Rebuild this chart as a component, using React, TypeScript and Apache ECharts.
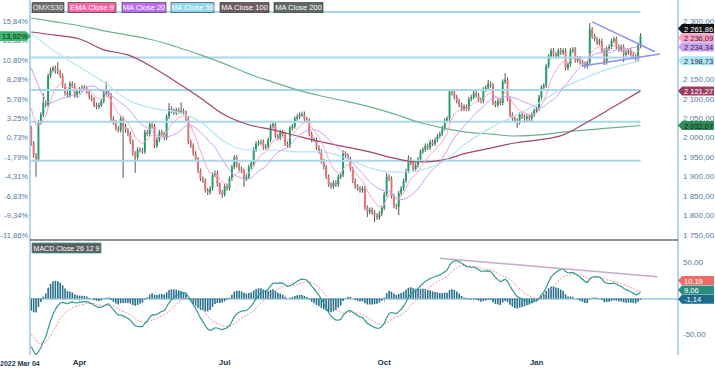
import React, { useEffect, useRef } from "react";
import * as echarts from "echarts";

// ---------- DATA ----------
const closes = [
  1986, 1955, 1945, 2040, 2060, 2090, 2085, 2160, 2175, 2180,
  2172, 2170, 2160, 2135, 2115, 2110, 2140, 2135, 2110, 2120,
  2125, 2130, 2128, 2120, 2105, 2100, 2085, 2080, 2085, 2095,
  2115, 2120, 2110, 2050, 2040, 2025, 2020, 2050, 2030, 2020,
  2010, 1990, 1960, 1950, 1970, 1968, 1965, 2015, 2010, 2035,
  2030, 1980, 1995, 2015, 2010, 2000, 2055, 2075, 2070, 2065,
  2072, 2068, 2070, 2065, 2050, 1990, 1980, 1960, 1945, 1915,
  1895, 1890, 1865, 1860, 1870, 1905, 1910, 1880, 1860, 1855,
  1875, 1870, 1895, 1925, 1950, 1930, 1920, 1915, 1895, 1900,
  1925, 1935, 1970, 1985, 1988, 1990, 1975, 1978, 1995, 2030,
  2035, 2005, 2000, 2015, 2010, 1985, 1980, 2025, 2030, 2050,
  2055, 2060, 2062, 2048, 2045, 2010, 1995, 1995, 1975, 1965,
  1940, 1925, 1900, 1880, 1875, 1885, 1880, 1900, 1905, 1960,
  1955, 1945, 1920, 1890, 1875, 1870, 1865, 1870, 1820, 1810,
  1815, 1808, 1800, 1795, 1805, 1820, 1855, 1900, 1895, 1850,
  1825, 1822, 1858, 1870, 1890, 1915, 1945, 1935, 1920, 1930,
  1945, 1965, 1970, 1980, 1975, 1990, 1985, 1995, 2005, 2010,
  2025, 2045, 2050, 2120, 2115, 2105, 2095, 2085, 2075, 2080,
  2075, 2100, 2105, 2115, 2110, 2098, 2095, 2125, 2130, 2140,
  2135, 2090, 2085, 2095, 2090, 2145, 2150, 2100, 2060, 2050,
  2045, 2040, 2060, 2055, 2050, 2055, 2050, 2060, 2070, 2075,
  2105, 2130, 2135, 2185, 2210, 2225, 2215, 2210, 2225, 2220,
  2225, 2180, 2190, 2225, 2228, 2200, 2205, 2195, 2190, 2185,
  2195, 2280, 2262, 2255, 2245, 2250, 2225, 2195, 2230, 2235,
  2250, 2255, 2235, 2228, 2235, 2215, 2220, 2225, 2215, 2210,
  2205, 2238, 2261.86,
];
const firstOpen = 2025;
const defaultWick = 6;
const highOverrides: Record<number, number> = {
  5: 2115, 11: 2195, 31: 2144, 57: 2090, 62: 2092, 100: 2042, 111: 2066,
  129: 1968, 147: 1910, 156: 1955, 189: 2150, 196: 2167, 219: 2232,
  231: 2296, 252: 2270,
};
const lowOverrides: Record<number, number> = {
  2: 1900, 38: 1897, 43: 1910, 73: 1853, 79: 1845, 88: 1874, 139: 1796,
  142: 1783, 152: 1801, 201: 2026, 237: 2188, 245: 2196, 249: 2203,
};
const pctBase = 1985.5;

const ma20Head = [2180, 2165, 2150, 2135, 2120, 2108, 2098, 2092, 2090, 2092,
  2095, 2098, 2100, 2103, 2105, 2106, 2108, 2110, 2112];

const ma50Pts: [number, number][] = [
  [0, 2270], [10, 2222], [20, 2183], [30, 2144], [40, 2098], [50, 2077],
  [60, 2067], [70, 2041], [80, 1990], [90, 1969], [100, 1969], [110, 1964],
  [120, 1964], [130, 1948], [140, 1923], [150, 1912], [160, 1916],
  [170, 1938], [180, 1987], [190, 2026], [200, 2057], [210, 2090],
  [220, 2129], [230, 2157], [240, 2180], [252, 2198.73],
];
const ma100Pts: [number, number][] = [
  [0, 2273], [10, 2265], [20, 2255], [30, 2227], [40, 2214], [50, 2183],
  [60, 2144], [70, 2103], [80, 2059], [90, 2034], [100, 2021], [110, 2005],
  [120, 1990], [130, 1977], [140, 1964], [150, 1948], [160, 1938],
  [170, 1943], [180, 1961], [190, 1974], [200, 1987], [210, 1995],
  [220, 2008], [230, 2041], [240, 2077], [252, 2121.27],
];
const ma200Pts: [number, number][] = [
  [0, 2309], [10, 2299], [20, 2289], [30, 2276], [40, 2265], [50, 2253],
  [60, 2235], [70, 2214], [80, 2191], [90, 2165], [100, 2144], [110, 2124],
  [120, 2108], [130, 2095], [140, 2080], [150, 2062], [160, 2041],
  [170, 2026], [180, 2015], [190, 2010], [200, 2005], [210, 2008],
  [220, 2015], [230, 2021], [240, 2026], [252, 2032.07],
];

const emaSeed9 = 2100;
const emaSeed12 = 2120;
const emaSeed26 = 2180;
const signalSeed = -45;

const levels = [2324.7, 2207.3, 2123.7, 2042, 1941.3];
const triUpper: [number, number][] = [[232, 2299], [258, 2222]];
const triLower: [number, number][] = [[228, 2185.5], [260, 2216.5]];
const macdTrend: [number, number][] = [[169, 55.6], [259, 30.2]];

const pctLabels: Record<number, string> = {
  2300: "15,84%", 2250: "13,32%", 2200: "10,80%", 2150: "8,28%", 2100: "5,76%",
  2050: "3,25%", 2000: "0,73%", 1950: "-1,79%", 1900: "-4,31%", 1850: "-6,83%",
  1800: "-9,34%", 1750: "-11,86%",
};
const hiddenPriceLabels = [2250, 2200]; // covered by value tags in the reference
const startLabel = "2022 Mar 04";
const xLabels: Record<number, string> = { 20: "Apr", 80: "Jul", 146: "Oct", 209: "Jan" };

const lastEma9 = 2236.09;
const lastMa20 = 2234.34;
const lastMacd = 9.06;
const lastSignal = 10.19;
const lastHist = -1.14;

const legendItems = [
  { t: "OMXS30", x: 32, w: 32, bg: "#6e6e6e", fg: "#ececec" },
  { t: "EMA Close 9", x: 68, w: 48, bg: "#ff63a6", fg: "#ffffff" },
  { t: "MA Close 20", x: 122, w: 44, bg: "#b86df2", fg: "#ffffff" },
  { t: "MA Close 50", x: 171, w: 43, bg: "#8fd6f0", fg: "#ffffff" },
  { t: "MA Close 100", x: 220, w: 49, bg: "#6d5c62", fg: "#ffffff" },
  { t: "MA Close 200", x: 274, w: 49, bg: "#5e6a63", fg: "#ffffff" },
];

// ---------- derived ----------
const SLOTS = 268;
const cats = Array.from({ length: SLOTS }, (_, i) => String(i));
const FONT = '"Liberation Sans", Arial, sans-serif';

const candleData = closes.map((c, i) => {
  const o = i === 0 ? firstOpen : closes[i - 1];
  const h = highOverrides[i] ?? Math.max(o, c) + defaultWick;
  const l = lowOverrides[i] ?? Math.min(o, c) - defaultWick;
  return [i, o, c, l, h];
});

function ema(arr: number[], n: number, seed: number) {
  const k = 2 / (n + 1);
  let e = seed;
  return arr.map((v) => (e = e + (v - e) * k));
}
const ema9 = ema(closes, 9, emaSeed9);
const ma20 = closes.map((_, i) => {
  if (i < 19) return ma20Head[i];
  let s = 0;
  for (let j = i - 19; j <= i; j++) s += closes[j];
  return s / 20;
});
const e12 = ema(closes, 12, emaSeed12);
const e26 = ema(closes, 26, emaSeed26);
const macd = e12.map((v, i) => v - e26[i]);
const signal = ema(macd, 9, signalSeed);
const hist = macd.map((v, i) => v - signal[i]);

const fmtPrice = (v: number) => {
  const [a, b] = Math.abs(v).toFixed(2).split(".");
  const s = a.replace(/\B(?=(\d{3})+(?!\d))/g, " ");
  return (v < 0 ? "-" : "") + s + "," + b;
};

const GREEN = "#1f9e68";
const RED = "#e47272";

function buildOption(): any {
  const lineS = (data: any, color: string, width: number, extra: any = {}) => ({
    type: "line", data, xAxisIndex: 0, yAxisIndex: 0, symbol: "none",
    lineStyle: { color, width }, silent: true, ...extra,
  });
  return {
    animation: false,
    backgroundColor: "#ffffff",
    grid: [
      { left: 30, right: 37, top: 2.1, height: 232.9, outerBoundsMode: "none", containLabel: false },
      { left: 30, right: 37, top: 242.1, height: 112.8, outerBoundsMode: "none", containLabel: false },
    ],
    xAxis: [
      { type: "category", gridIndex: 0, data: cats, boundaryGap: true,
        axisLine: { show: false }, axisTick: { show: false }, axisLabel: { show: false }, splitLine: { show: false } },
      { type: "category", gridIndex: 1, data: cats, boundaryGap: true,
        axisLine: { show: true, lineStyle: { color: "#9dc6dd", width: 1.5 } },
        axisTick: { show: true, alignWithLabel: true, length: 4, lineStyle: { color: "#9dc6dd" },
          interval: (idx: number) => xLabels[idx] !== undefined },
        axisLabel: { show: true, interval: (idx: number) => xLabels[idx] !== undefined,
          formatter: (_v: string, idx: number) => xLabels[idx] ?? "",
          margin: 4, fontSize: 8, fontFamily: FONT, fontWeight: "bold", color: "#22364f" },
        splitLine: { show: false } },
    ],
    yAxis: [
      { type: "value", gridIndex: 0, position: "right", min: 1750, max: 2350, interval: 50,
        axisLine: { show: false }, axisTick: { show: false }, splitLine: { show: false },
        axisLabel: { margin: 5, fontSize: 8, fontFamily: FONT, color: "#557ca3",
          formatter: (v: number) => (v >= 2350 || hiddenPriceLabels.includes(Math.round(v)) ? "" : fmtPrice(v)) } },
      { type: "value", gridIndex: 0, position: "left", min: 1750, max: 2350, interval: 50,
        axisLine: { show: false }, axisTick: { show: false }, splitLine: { show: false },
        axisLabel: { margin: 2, fontSize: 7.5, fontFamily: FONT, color: "#4f7aa6",
          formatter: (v: number) => pctLabels[Math.round(v)] ?? "" } },
      { type: "value", gridIndex: 1, position: "right", min: -78, max: 78, splitNumber: 3,
        axisLine: { show: false }, axisTick: { show: false }, splitLine: { show: false },
        axisLabel: { margin: 5, fontSize: 8, fontFamily: FONT, color: "#557ca3",
          formatter: (v: number) => (Math.abs(v) === 50 ? fmtPrice(v) : "") } },
    ],
    series: [
      ...levels.map((p) => lineS([[0, p], [252, p]], "#a6d8ec", 2)),
      lineS(ma200Pts, "#6bb38a", 1.2, { smooth: 0.4 }),
      lineS(ma100Pts, "#a4456a", 1.2, { smooth: 0.4 }),
      lineS(ma50Pts, "#b6e4f4", 1.2, { smooth: 0.4 }),
      lineS(ma20, "#c9a0f3", 1),
      lineS(ema9, "#f7a6c8", 1),
      {
        type: "custom", xAxisIndex: 0, yAxisIndex: 0, data: candleData, silent: true,
        encode: { x: 0, y: [1, 2, 3, 4] },
        renderItem: (params: any, api: any) => {
          const i = api.value(0), o = api.value(1), c = api.value(2), l = api.value(3), h = api.value(4);
          const pO = api.coord([i, o]);
          const pC = api.coord([i, c]);
          const pL = api.coord([i, l]);
          const pH = api.coord([i, h]);
          const w = api.size([1, 0])[0] * 0.8;
          const top = Math.min(pO[1], pC[1]);
          const ht = Math.max(1, Math.abs(pO[1] - pC[1]));
          return {
            type: "group",
            children: [
              { type: "line", shape: { x1: pH[0], y1: pH[1], x2: pL[0], y2: pL[1] },
                style: { stroke: "#555555", lineWidth: 1 } },
              { type: "rect", shape: { x: pO[0] - w / 2, y: top, width: w, height: ht },
                style: { fill: c >= o ? GREEN : RED } },
            ],
          };
        },
      },
      lineS(triUpper, "#9090f2", 1.5),
      lineS(triLower, "#9090f2", 1.5),
      { type: "bar", xAxisIndex: 1, yAxisIndex: 2, data: hist, barWidth: "65%",
        itemStyle: { color: "#256f8e" }, silent: true },
      { type: "line", xAxisIndex: 1, yAxisIndex: 2, data: signal, symbol: "none", silent: true,
        lineStyle: { color: "#f38d8d", width: 1, type: [2, 1.5] } },
      { type: "line", xAxisIndex: 1, yAxisIndex: 2, data: macd, symbol: "none", silent: true,
        lineStyle: { color: "#2f9a93", width: 1.2 } },
      { type: "line", xAxisIndex: 1, yAxisIndex: 2, data: macdTrend, symbol: "none", silent: true,
        lineStyle: { color: "#c4adc6", width: 1.5 } },
    ],
  };
}

function rightTag(yc: number, text: string, bg: string, fg: string) {
  return [
    { type: "polygon", z: 100,
      shape: { points: [[678, yc], [682, yc - 4.5], [714, yc - 4.5], [714, yc + 4.5], [682, yc + 4.5]] },
      style: { fill: bg } },
    { type: "text", z: 101,
      style: { text, x: 684, y: yc + 0.5, fill: fg, font: `7.5px ${FONT}`, verticalAlign: "middle", align: "left" } },
  ];
}

function resolve(items: { y: number }[], gap: number) {
  items.sort((a, b) => a.y - b.y);
  for (let j = items.length - 2; j >= 0; j--) {
    items[j].y = Math.min(items[j].y, items[j + 1].y - gap);
  }
  return items;
}

function buildGraphics(chart: any) {
  const g: any[] = [];
  g.push({ type: "line", z: 50, shape: { x1: 30, y1: 0, x2: 30, y2: 355 }, style: { stroke: "#9dc6dd", lineWidth: 1.5 } });
  g.push({ type: "line", z: 50, shape: { x1: 678, y1: 0, x2: 678, y2: 355 }, style: { stroke: "#9dc6dd", lineWidth: 1.5 } });
  g.push({ type: "line", z: 50, shape: { x1: 30, y1: 240, x2: 678, y2: 240 }, style: { stroke: "#1e2a33", lineWidth: 1 } });
  legendItems.forEach((it) => {
    g.push({ type: "rect", z: 60, shape: { x: it.x, y: 2.5, width: it.w, height: 10 },
      style: { fill: it.bg, stroke: "#2a2a2a", lineWidth: 0.6 } });
    g.push({ type: "text", z: 61, style: { text: it.t, x: it.x + it.w / 2, y: 7.8, fill: it.fg,
      font: `7.5px ${FONT}`, align: "center", verticalAlign: "middle" } });
  });
  g.push({ type: "rect", z: 60, shape: { x: 32, y: 243, width: 69, height: 10 },
    style: { fill: "#5e5e5e", stroke: "#3a9a9a", lineWidth: 0.8 } });
  g.push({ type: "text", z: 61, style: { text: "MACD Close 26 12 9", x: 66.5, y: 248.3, fill: "#ffffff",
    font: `7px ${FONT}`, align: "center", verticalAlign: "middle" } });
  g.push({ type: "text", z: 61, style: { text: startLabel, x: 0, y: 363.5, fill: "#22364f",
    font: `bold 7px ${FONT}`, align: "left", verticalAlign: "middle" } });

  const last = closes[closes.length - 1];
  const py = (v: number) => chart.convertToPixel({ yAxisIndex: 0 }, v) as number;
  const my = (v: number) => chart.convertToPixel({ yAxisIndex: 2 }, v) as number;

  const mainTags = resolve([
    { y: py(last), v: last, bg: "#111111", fg: "#ffffff" },
    { y: py(lastEma9), v: lastEma9, bg: "#f9a3c7", fg: "#3a2a30" },
    { y: py(lastMa20), v: lastMa20, bg: "#caa3f4", fg: "#2f2a3a" },
    { y: py(ma50Pts[ma50Pts.length - 1][1]), v: ma50Pts[ma50Pts.length - 1][1], bg: "#ade3f6", fg: "#2a3a40" },
    { y: py(ma100Pts[ma100Pts.length - 1][1]), v: ma100Pts[ma100Pts.length - 1][1], bg: "#9c3d62", fg: "#ffffff" },
    { y: py(ma200Pts[ma200Pts.length - 1][1]), v: ma200Pts[ma200Pts.length - 1][1], bg: "#2f8c58", fg: "#0f2a1a" },
  ] as any[], 9.2);
  mainTags.forEach((t: any) => g.push(...rightTag(t.y, fmtPrice(t.v), t.bg, t.fg)));

  const macdTags = resolve([
    { y: my(lastSignal), v: lastSignal, bg: "#f06a6a", fg: "#ffffff" },
    { y: my(lastMacd), v: lastMacd, bg: "#2a8c7f", fg: "#ffffff" },
    { y: my(lastHist), v: lastHist, bg: "#1d6b8b", fg: "#ffffff" },
  ] as any[], 9.4);
  macdTags.forEach((t: any) => g.push(...rightTag(t.y, fmtPrice(t.v), t.bg, t.fg)));

  const yl = py(last);
  const pct = ((last / pctBase - 1) * 100).toFixed(2).replace(".", ",") + "%";
  g.push({ type: "polygon", z: 100,
    shape: { points: [[0, yl - 5], [26, yl - 5], [31, yl], [26, yl + 5], [0, yl + 5]] },
    style: { fill: "#3fb46c" } });
  g.push({ type: "text", z: 101, style: { text: pct, x: 2, y: yl + 0.5, fill: "#0d2a18",
    font: `7.5px ${FONT}`, align: "left", verticalAlign: "middle" } });
  return g;
}

export default function App() {
  const ref = useRef<HTMLDivElement>(null);
  useEffect(() => {
    const chart = echarts.init(ref.current!, null, { renderer: "svg" });
    chart.setOption(buildOption());
    chart.setOption({ graphic: buildGraphics(chart) });
    return () => chart.dispose();
  }, []);
  return <div ref={ref} style={{ position: "fixed", left: 0, top: 0, width: 715, height: 371 }} />;
}
